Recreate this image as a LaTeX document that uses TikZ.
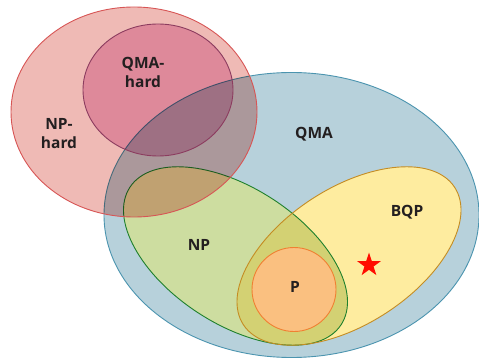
\documentclass[tikz,border=0pt]{standalone}
\usepackage{fontspec}
\setmainfont{Open Sans}
\usetikzlibrary{shapes.geometric}
\definecolor{qmafill}{RGB}{183,209,219}
\definecolor{qmaline}{RGB}{75,148,175}
\definecolor{npfill}{RGB}{205,221,160}
\definecolor{npline}{RGB}{30,128,45}
\definecolor{bqpfill}{RGB}{254,236,159}
\definecolor{bqpline}{RGB}{196,140,35}
\definecolor{bothfill}{RGB}{211,209,115}
\definecolor{pfill}{RGB}{250,192,128}
\definecolor{pline}{RGB}{240,128,50}
\definecolor{nphfill}{RGB}{239,186,181}
\definecolor{nphline}{RGB}{215,85,85}
\definecolor{qmahfill}{RGB}{237,189,217}
\definecolor{qmahline}{RGB}{140,60,95}
\definecolor{labeltext}{RGB}{35,31,32}
\tikzset{
  classlabel/.style={font=\bfseries\fontsize{15.5}{19}\selectfont, text=labeltext, align=center, inner sep=0pt},
  border/.style={line width=0.9pt}
}
\begin{document}
\begin{tikzpicture}[x=1pt,y=-1pt]
\useasboundingbox (0,0) rectangle (479,358);
\coordinate (qma) at (291.5,215);
\coordinate (np) at (235.5,256);
\coordinate (bqp) at (349,256);
\coordinate (p) at (294,289.5);
\coordinate (nph) at (134,112);
\coordinate (qmah) at (158,90);
% QMA, NP, BQP, P
\fill[qmafill] (qma) ellipse [x radius=187.5, y radius=142.5];
\fill[npfill] (np) ellipse [x radius=126, y radius=68, rotate=-33];
\fill[bqpfill] (bqp) ellipse [x radius=126, y radius=68, rotate=33];
\begin{scope}
\clip (np) ellipse [x radius=126, y radius=68, rotate=-33];
\fill[bothfill] (bqp) ellipse [x radius=126, y radius=68, rotate=33];
\end{scope}
\fill[pfill] (p) circle [radius=42];
\draw[border, qmaline] (qma) ellipse [x radius=187.5, y radius=142.5];
\draw[border, npline] (np) ellipse [x radius=126, y radius=68, rotate=-33];
\draw[border, bqpline] (bqp) ellipse [x radius=126, y radius=68, rotate=33];
\draw[border, pline] (p) circle [radius=42];
% hardness classes
\begin{scope}[blend mode=multiply]
\fill[nphfill] (nph) ellipse [x radius=123, y radius=105];
\fill[qmahfill] (qmah) ellipse [x radius=75, y radius=66];
\end{scope}
\draw[border, nphline] (nph) ellipse [x radius=123, y radius=105];
\draw[border, qmahline] (qmah) ellipse [x radius=75, y radius=66];
\node[star, star points=5, star point ratio=2.6, minimum size=25pt, inner sep=0pt, fill=red!90!orange] (mark) at (369,265) {};
% labels
\node[classlabel] (qmahlabel) at (143,72) {QMA-\\hard};
\node[classlabel] (nphlabel) at (59,134) {NP-\\hard};
\node[classlabel] (qmalabel) at (314,134) {QMA};
\node[classlabel] (bqplabel) at (407,212) {BQP};
\node[classlabel] (nplabel) at (199,245) {NP};
\node[classlabel] (plabel) at (295,287) {P};
\end{tikzpicture}
\end{document}
